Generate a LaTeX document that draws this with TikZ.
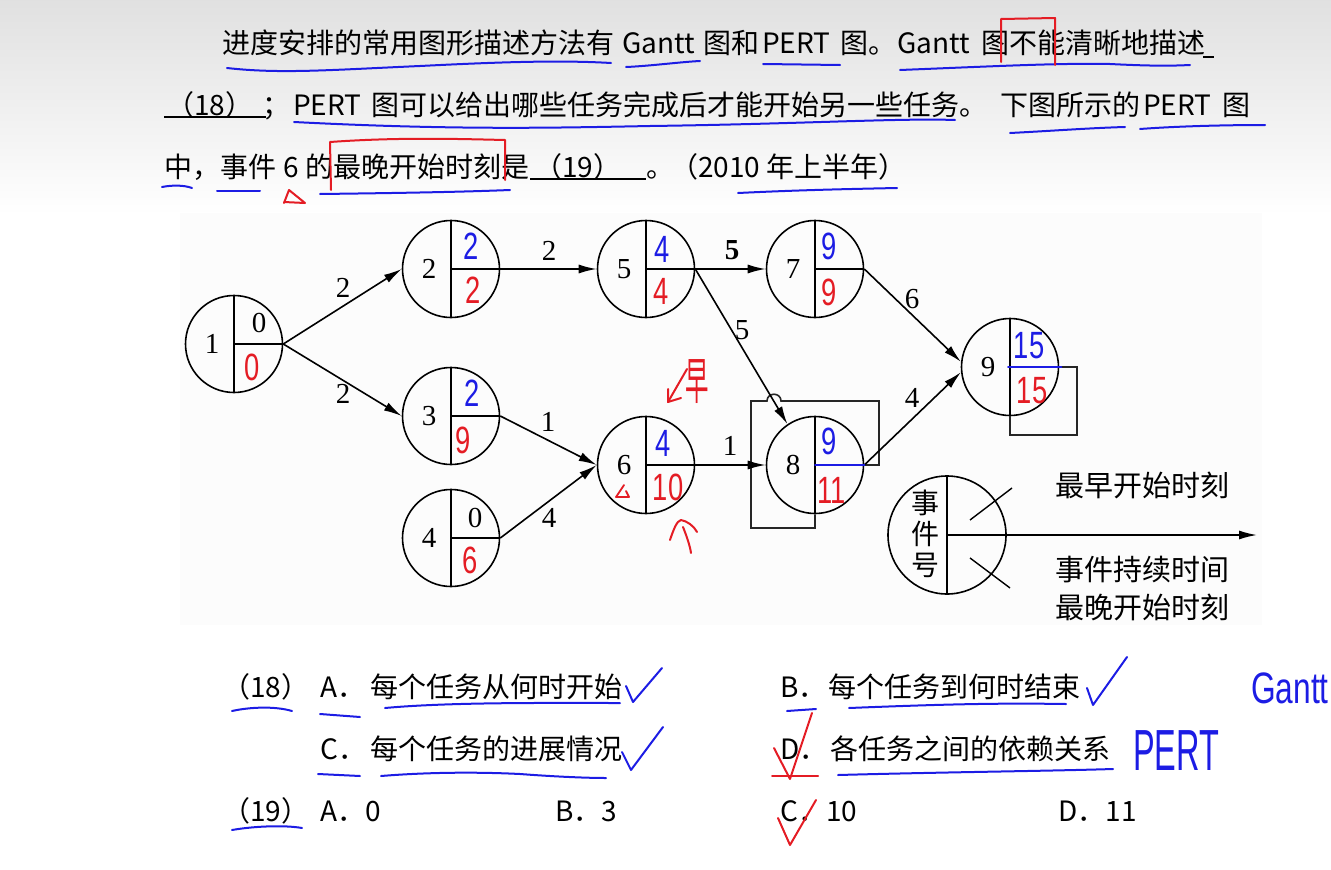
\documentclass[tikz,border=0pt]{standalone}
\usepackage{fontspec}
\usepackage{xcolor}
\usetikzlibrary{arrows.meta}
\newfontfamily\cjk{Noto Sans CJK SC}
\newfontfamily\tnr{Liberation Serif}
\newfontfamily\hand{Liberation Sans}
\definecolor{penblue}{RGB}{28,28,228}
\definecolor{penred}{RGB}{228,28,36}
\newcommand{\hw}[1]{\scalebox{0.72}[1]{#1}}

\tikzset{
  ev/.style={circle, draw, line width=1.6pt, minimum size=97, inner sep=0pt},
  wt/.style={inner sep=0pt, font=\tnr\fontsize{29}{29}\selectfont},
  txt/.style={anchor=base west, inner sep=0pt, font=\cjk\fontsize{28}{28}\selectfont},
  bpen/.style={draw=penblue, line width=2pt, line cap=round, line join=round},
  rpen/.style={draw=penred, line width=2pt, line cap=round, line join=round},
  bnum/.style={inner sep=0pt, text=penblue, font=\hand\fontsize{38}{38}\selectfont},
  rnum/.style={inner sep=0pt, text=penred, font=\hand\fontsize{38}{38}\selectfont},
  arr/.style={line width=1.6pt, -{Latex[length=18pt,width=9pt]}}
}

\begin{document}
\begin{tikzpicture}[x=1pt, y=-1pt]
\useasboundingbox (0,0) rectangle (1331,870);

% Background of the slide
\shade[top color=gray!24, bottom color=white] (0,0) rectangle (1331,215);
\fill[gray!2] (180,213) rectangle (1262,625);

% Question text
\node[txt] (q1a) at (222,53) {进度安排的常用图形描述方法有};
\node[txt] (q1b) at (622,53) {Gantt};
\node[txt] (q1c) at (703,53) {图和};
\node[txt] (q1d) at (762,53) {PERT};
\node[txt] (q1e) at (840,53) {图。};
\node[txt] (q1f) at (897,53) {Gantt};
\node[txt] (q1g) at (981,53) {图不能清晰地描述};
\draw[line width=1.4pt] (1203,57) -- (1214,57);

\draw[line width=1.4pt] (164,117) -- (266,117);
\node[txt] (q2a) at (166,115) {（18）};
\node[txt] (q2b) at (262,115) {；};
\node[txt] (q2c) at (293,115) {PERT};
\node[txt] (q2d) at (371,115) {图可以给出哪些任务完成后才能开始另一些任务。};
\node[txt] (q2e) at (1000,115) {下图所示的};
\node[txt] (q2f) at (1143,115) {PERT};
\node[txt] (q2g) at (1222,115) {图};

\node[txt] (q3a) at (164,177) {中，};
\node[txt] (q3b) at (220,177) {事件};
\node[txt] (q3c) at (283,177) {6};
\node[txt] (q3d) at (305,177) {的最晚开始时刻是};
\draw[line width=1.4pt] (530,179) -- (646,179);
\node[txt] (q3e) at (534,177) {（19）};
\node[txt] (q3f) at (646,177) {。};
\node[txt] (q3g) at (670,177) {（2010 年上半年）};

% Pen marks on the question
\draw[bpen] (227,68) .. controls (280,74) and (330,70) .. (420,66) .. controls (500,62) and (560,60) .. (611,63);
\draw[bpen] (626,67) .. controls (650,66) and (680,62) .. (700,61);
\draw[bpen] (763,64) -- (840,65);
\draw[bpen] (900,70) .. controls (1000,66) and (1060,63) .. (1110,64) .. controls (1150,66) and (1170,66) .. (1190,65);
\draw[rpen] (1001,62) -- (1001,19) -- (1055,18) -- (1055,65);
\draw[bpen] (294,122) .. controls (450,130) and (550,128) .. (650,126) .. controls (800,124) and (900,118) .. (955,120);
\draw[bpen] (1010,133) .. controls (1050,131) and (1090,128) .. (1125,127);
\draw[bpen] (1140,129) .. controls (1180,126) and (1230,125) .. (1265,125);
\draw[bpen] (162,187) .. controls (172,185) and (184,185) .. (192,188);
\draw[bpen] (217,191) -- (260,191);
\draw[rpen] (284,203) -- (289,190) -- (305,203) -- (284,202);
\draw[rpen] (331,190) -- (330,142) .. controls (400,137) and (460,139) .. (505,140) -- (505,180);
\draw[bpen] (320,194) .. controls (400,193) and (460,192) .. (510,190);
\draw[bpen] (738,193) .. controls (800,190) and (850,189) .. (897,188);

% Draw the event nodes
\foreach \nm/\x/\y in {1/234/344, 2/451/269, 3/451/416, 4/451/538, 5/646/269, 6/646/465, 7/815/269, 8/815/465, 9/1010/367}{
  \node[ev] (n\nm) at (\x,\y) {};
  \draw[line width=1.6pt] (n\nm.north) -- (n\nm.south);
  \draw[line width=1.6pt] (n\nm.center) -- (n\nm.east);
  \node[wt] (k\nm) at ([xshift=-22pt]n\nm.center) {\nm};
}

% Boxes round events 8 and 9
\draw[line width=1.6pt, black!85] (n8.south) -- (815,528) -- (751,528) -- (751,401) -- (767,401) .. controls (767,392) and (781,392) .. (781,401) -- (879,401) -- (879,465) -- (n8.east);
\draw[line width=1.6pt, black!85] (n9.south) -- (1010,435) -- (1077,435) -- (1077,367) -- (n9.east);

% Draw the activities
\draw[arr] (n1.east) -- (n2.west);
\draw[arr] (n1.east) -- (n3.west);
\draw[arr] (n2.east) -- (n5.west);
\draw[arr] (n5.east) -- (n7.west);
\draw[arr] (n5.east) -- (n8.124);
\draw[arr] (n3.east) -- (n6.west);
\draw[arr] (n4.east) -- (n6.west);
\draw[arr] (n6.east) -- (n8.west);
\draw[arr] (n7.east) -- (n9.174);
\draw[arr] (n8.east) -- (n9.186);

% Add labels for the durations
\node[wt] (w12) at (343,288) {2};
\node[wt] (w13) at (343,394) {2};
\node[wt] (w25) at (549,251) {2};
\node[wt] (w57) at (732,250) {\bfseries 5};
\node[wt] (w58) at (742,330) {5};
\node[wt] (w36) at (548,422) {1};
\node[wt] (w46) at (549,518) {4};
\node[wt] (w68) at (730,446) {1};
\node[wt] (w79) at (912,299) {6};
\node[wt] (w89) at (912,398) {4};

% Earliest and latest times
\node[wt] (e1) at (259,323) {0};
\node[rnum] (l1) at (252,367) {\hw{0}};
\node[bnum] (e2) at (471,246) {\hw{2}};
\node[rnum] (l2) at (473,290) {\hw{2}};
\node[bnum] (e3) at (472,393) {\hw{2}};
\node[rnum] (l3) at (463,440) {\hw{9}};
\node[wt] (e4) at (475,518) {0};
\node[rnum] (l4) at (470,560) {\hw{6}};
\node[bnum] (e5) at (662,249) {\hw{4}};
\node[rnum] (l5) at (661,291) {\hw{4}};
\node[bnum] (e6) at (663,443) {\hw{4}};
\node[rnum] (l6) at (668,487) {\hw{10}};
\node[bnum] (e7) at (829,246) {\hw{9}};
\node[rnum] (l7) at (829,292) {\hw{9}};
\node[bnum] (e8) at (829,441) {\hw{9}};
\node[rnum] (l8) at (832,490) {\hw{11}};
\node[bnum] (e9) at (1029,346) {\hw{15}};
\node[rnum] (l9) at (1032,391) {\hw{15}};
\draw[bpen] (n8.center) -- (n8.east);
\draw[bpen] ([xshift=-2pt]n9.center) -- ([xshift=2pt]n9.east);

% Pen marks near event 6
\node[inner sep=0pt, text=penred, font=\cjk\fontsize{36}{36}\selectfont] (zao) at (697,382) {\scalebox{0.65}[1.4]{早}};
\draw[rpen] (687,369) -- (668,402);
\draw[rpen] (668,389) -- (668,402) -- (681,398);
\draw[rpen] (670,540) .. controls (674,528) and (677,521) .. (681,520) .. controls (687,521) and (694,526) .. (697,532);
\draw[rpen] (683,527) .. controls (687,537) and (690,546) .. (691,553);
\draw[rpen, line width=1.8pt] (624,485) -- (616,497) -- (629,497) -- (626,491);

% Legend
\node[ev, minimum size=118] (lg) at (947,535) {};
\draw[line width=1.6pt] (lg.north) -- (lg.south);
\coordinate (lgtip) at (1257,535);
\draw[arr] (lg.center) -- (lgtip);
\draw[line width=1.4pt] (970,520) -- (1012,488);
\draw[line width=1.4pt] (970,558) -- (1010,588);
\node[inner sep=0pt, align=center, font=\cjk\fontsize{28}{31}\selectfont] (lgn) at (925,534) {事\\件\\号};
\node[inner sep=0pt, anchor=west, font=\cjk\fontsize{29}{29}\selectfont] (lgs) at (1055,485) {最早开始时刻};
\node[inner sep=0pt, anchor=west, font=\cjk\fontsize{29}{29}\selectfont] (lgd) at (1055,570) {事件持续时间};
\node[inner sep=0pt, anchor=west, font=\cjk\fontsize{29}{29}\selectfont] (lgl) at (1055,607) {最晚开始时刻};

% Answers
\node[txt] (a1) at (222,697) {（18）};
\node[txt] (a2) at (320,697) {A．};
\node[txt] (a3) at (370,697) {每个任务从何时开始};
\node[txt] (a4) at (780,697) {B．};
\node[txt] (a5) at (828,697) {每个任务到何时结束};
\node[txt] (a6) at (320,759) {C．};
\node[txt] (a7) at (370,759) {每个任务的进展情况};
\node[txt] (a8) at (780,759) {D．};
\node[txt] (a9) at (830,759) {各任务之间的依赖关系};
\node[txt] (b1) at (222,821) {（19）};
\node[txt] (b2) at (320,821) {A．0};
\node[txt] (b3) at (555,821) {B．3};
\node[txt] (b4) at (780,821) {C．10};
\node[txt] (b5) at (1058,821) {D．11};

% Pen marks on the answers
\draw[bpen] (232,711) .. controls (250,707) and (275,706) .. (292,711);
\draw[bpen] (320,714) -- (360,717);
\draw[bpen] (385,708) .. controls (450,702) and (550,703) .. (620,703);
\draw[bpen] (787,711) -- (816,709);
\draw[bpen] (849,708) .. controls (950,704) and (1000,703) .. (1066,704);
\draw[bpen] (318,774) -- (360,776);
\draw[bpen] (381,776) .. controls (430,772) and (480,772) .. (520,774) .. controls (560,777) and (590,778) .. (606,778);
\draw[bpen] (838,775) .. controls (950,772) and (1050,771) .. (1113,769);
\draw[bpen] (232,830) .. controls (255,826) and (285,825) .. (302,828);
\draw[bpen] (626,686) -- (633,702) -- (662,668);
\draw[bpen] (1087,688) -- (1093,705) -- (1127,657);
\draw[bpen] (622,752) -- (631,770) -- (663,727);
\draw[rpen] (774,748) -- (790,779) -- (812,713);
\draw[rpen] (772,776) -- (818,776);
\draw[rpen] (778,818) -- (790,845) -- (816,800);
\node[inner sep=0pt, anchor=west, text=penblue, font=\hand\fontsize{44}{44}\selectfont] (gw) at (1251,688) {\scalebox{0.72}[1]{Gantt}};
\node[inner sep=0pt, anchor=west, text=penblue, font=\hand\fontsize{58}{58}\selectfont] (pw) at (1133,751) {\scalebox{0.56}[1]{PERT}};
\end{tikzpicture}
\end{document}
